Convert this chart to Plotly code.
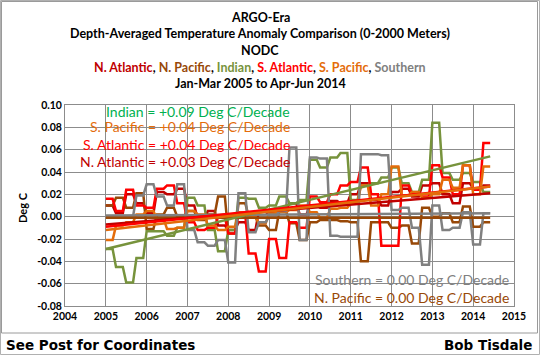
import numpy as np
import plotly.graph_objects as go

# ---------------- data (quarterly, Jan-Mar 2005 .. Apr-Jun 2014) ----------------
quarter_start = [2005 + k * 0.25 for k in range(38)]

n_atlantic = [0.010, 0.003, 0.020, 0.012, 0.003, 0.022, 0.020, 0.025,
              0.010, -0.002, 0.005, -0.008, -0.012, -0.005, -0.012, 0.005,
              0.000, 0.006, 0.012, 0.002, 0.010, 0.008, 0.014, 0.012,
              0.020, 0.030, 0.015, 0.010, 0.022, 0.025, 0.018, 0.028,
              0.030, 0.020, 0.012, 0.030, 0.025, 0.028]
n_pacific = [0.010, 0.017, 0.008, 0.021, -0.011, 0.002, 0.008, 0.000,
             0.005, -0.003, 0.002, 0.018, -0.015, 0.012, 0.000, -0.008,
             -0.012, 0.005, -0.006, -0.021, -0.005, -0.003, -0.003, -0.004,
             -0.005, -0.040, -0.005, -0.005, -0.010, -0.008, -0.024, 0.008,
             0.000, 0.003, -0.005, 0.009, -0.009, -0.005]
indian = [-0.029, -0.045, -0.059, -0.037, -0.013, -0.013, -0.017, -0.010,
          0.017, 0.010, -0.012, -0.031, -0.012, 0.017, 0.016, 0.008,
          0.010, 0.018, 0.012, 0.015, 0.051, 0.044, 0.053, 0.057,
          0.015, 0.028, 0.030, 0.035, 0.044, 0.030, 0.022, 0.033,
          0.084, 0.039, 0.033, 0.039, 0.031, 0.022]
s_atlantic = [0.016, 0.005, 0.024, 0.010, 0.008, 0.025, 0.028, 0.012,
              -0.005, -0.012, -0.010, 0.000, -0.015, 0.002, -0.033, -0.049,
              -0.020, -0.037, -0.005, -0.010, 0.018, 0.013, 0.020, 0.028,
              0.031, 0.044, 0.020, -0.026, -0.026, 0.028, 0.020, 0.018,
              0.046, 0.035, 0.020, 0.046, 0.024, 0.066]
s_pacific = [-0.021, -0.008, -0.005, 0.002, 0.005, -0.002, -0.011, -0.010,
             0.005, 0.002, -0.008, -0.012, -0.009, 0.004, 0.000, -0.006,
             0.003, 0.004, 0.006, 0.010, 0.004, -0.001, 0.007, 0.008,
             0.012, 0.028, 0.010, 0.020, 0.045, 0.019, 0.022, 0.017,
             0.020, 0.033, 0.026, 0.046, 0.020, 0.045]
southern = [0.000, 0.000, 0.000, 0.019, 0.029, 0.018, 0.010, 0.029,
            -0.012, -0.023, -0.026, -0.021, -0.041, 0.021, -0.014, -0.005,
            0.000, 0.005, 0.062, -0.021, 0.053, 0.052, -0.017, -0.018,
            -0.018, 0.056, 0.056, 0.055, 0.006, 0.008, -0.010, -0.043,
            0.010, -0.012, -0.010, 0.004, -0.025, 0.003]

# linear trend end values (Jan 2005, Jun 2014)
trend_x = [2005.0, 2014 + 5 / 12]
trend_n_atlantic = [-0.007, 0.021]
trend_n_pacific = [-0.001, -0.001]
trend_indian = [-0.029, 0.054]
trend_s_atlantic = [-0.009, 0.027]
trend_s_pacific = [-0.012, 0.027]
trend_southern = [0.001, 0.003]

x_ticks = list(range(2004, 2016))
y_ticks = [-0.08, -0.06, -0.04, -0.02, 0.00, 0.02, 0.04, 0.06, 0.08, 0.10]

# ---------------- colours ----------------
C_NATL = "#C00000"
C_NPAC = "#984807"
C_IND = "#77933C"
C_SATL = "#FF0000"
C_SPAC = "#E46C0A"
C_SOUTH = "#808080"

# quarterly values are drawn as three monthly points each
month_offsets = np.array([0, 1, 2]) / 12.0


def monthly(values):
    xs = (np.array(quarter_start)[:, None] + month_offsets[None, :]).ravel()
    ys = np.repeat(np.array(values), 3)
    return xs, ys


fig = go.Figure()
series = [
    (n_atlantic, C_NATL),
    (n_pacific, C_NPAC),
    (indian, C_IND),
    (s_atlantic, C_SATL),
    (s_pacific, C_SPAC),
    (southern, C_SOUTH),
]
for vals, col in series:
    xs, ys = monthly(vals)
    fig.add_trace(go.Scatter(x=xs, y=ys, mode="lines",
                             line=dict(color=col, width=2.5), hoverinfo="skip"))

trends = [
    (trend_southern, C_SOUTH),
    (trend_n_pacific, C_NPAC),
    (trend_indian, C_IND),
    (trend_n_atlantic, C_NATL),
    (trend_s_atlantic, C_SATL),
    (trend_s_pacific, C_SPAC),
]
for vals, col in trends:
    fig.add_trace(go.Scatter(x=trend_x, y=vals, mode="lines",
                             line=dict(color=col, width=2.5), hoverinfo="skip"))

# ---------------- layout geometry (pixels) ----------------
W, H = 540, 355
L, R, T, B = 65, 26, 105, 49
PW = W - L - R
PH = H - T - B


def px(xp):
    return (xp - L) / PW


def py(yp):
    return (H - B - yp) / PH


FONT = "Lato"
ann = []


def add_text(text, xp, yp, size, color="black", bold=True, xanchor="center",
             family=FONT):
    t = f"<b>{text}</b>" if bold else text
    ann.append(dict(text=t, x=px(xp), y=py(yp), xref="paper", yref="paper",
                    xanchor=xanchor, yanchor="middle", showarrow=False,
                    font=dict(family=family, size=size, color=color)))


# title lines
add_text("ARGO-Era", 260, 17, 12.5)
add_text("Depth-Averaged Temperature Anomaly Comparison (0-2000 Meters)", 260, 34, 12.5)
add_text("NODC", 260, 50, 12.5)
colored = (f"<span style='color:{C_NATL}'>N. Atlantic</span>, "
           f"<span style='color:{C_NPAC}'>N. Pacific</span>, "
           f"<span style='color:{C_IND}'>Indian</span>, "
           f"<span style='color:{C_SATL}'>S. Atlantic</span>, "
           f"<span style='color:{C_SPAC}'>S. Pacific</span>, "
           f"<span style='color:{C_SOUTH}'>Southern</span>")
add_text(colored, 260, 67, 12.5)
add_text("Jan-Mar 2005 to Apr-Jun 2014", 260, 83, 12.5)

# trend labels
add_text("Indian = +0.09 Deg C/Decade", 292, 111, 14, "#00B050", False, "right")
add_text("S. Pacific = +0.04 Deg C/Decade", 292, 127, 14, C_SPAC, False, "right")
add_text("S. Atlantic = +0.04 Deg C/Decade", 292, 144, 14, C_SATL, False, "right")
add_text("N. Atlantic = +0.03 Deg C/Decade", 292, 161, 14, C_NATL, False, "right")
add_text("Southern = 0.00 Deg C/Decade", 511, 279, 14, C_SOUTH, False, "right")
add_text("N. Pacific = 0.00 Deg C/Decade", 511, 297, 14, C_NPAC, False, "right")

# axis title
ann.append(dict(text="<b>Deg C</b>", x=px(22), y=py(208), xref="paper", yref="paper",
                textangle=-90, showarrow=False, xanchor="center", yanchor="middle",
                font=dict(family=FONT, size=11, color="black")))

# footer
add_text("See Post for Coordinates", 4, 345, 13.5, "black", True, "left",
         family="DejaVu Sans")
add_text("Bob Tisdale", 534, 345, 13.5, "black", True, "right", family="DejaVu Sans")

shapes = [
    dict(type="rect", xref="paper", yref="paper", x0=px(1.5), x1=px(537.5),
         y0=py(333), y1=py(1.5), line=dict(color="#9a9a9a", width=1)),
    dict(type="rect", xref="paper", yref="paper", x0=px(0.5), x1=px(539.5),
         y0=py(354.5), y1=py(0.5), line=dict(color="#b0b0b0", width=1)),
]

fig.update_layout(
    width=W, height=H,
    margin=dict(l=L, r=R, t=T, b=B, pad=0),
    paper_bgcolor="white", plot_bgcolor="white",
    showlegend=False,
    annotations=ann, shapes=shapes,
    xaxis=dict(range=[2004, 2015], tickvals=x_ticks,
               ticktext=[str(v) for v in x_ticks],
               showgrid=True, gridcolor="#8c8c8c", gridwidth=1,
               showline=True, linecolor="#8c8c8c", mirror=True,
               zeroline=False, ticks="", ticklen=0,
               tickfont=dict(family=FONT, size=10.5, color="black", weight="bold")),
    yaxis=dict(range=[-0.08, 0.10], tickvals=y_ticks,
               ticktext=[f"{v:.2f}" for v in y_ticks],
               showgrid=True, gridcolor="#8c8c8c", gridwidth=1,
               showline=True, linecolor="#8c8c8c", mirror=True,
               zeroline=False, ticks="", ticklen=0,
               tickfont=dict(family=FONT, size=10.5, color="black", weight="bold")),
)

fig.write_html("out.html",
               config={"displayModeBar": False, "staticPlot": True},
               post_script="document.body.style.margin='0';"
                           "document.body.style.overflow='hidden';")
